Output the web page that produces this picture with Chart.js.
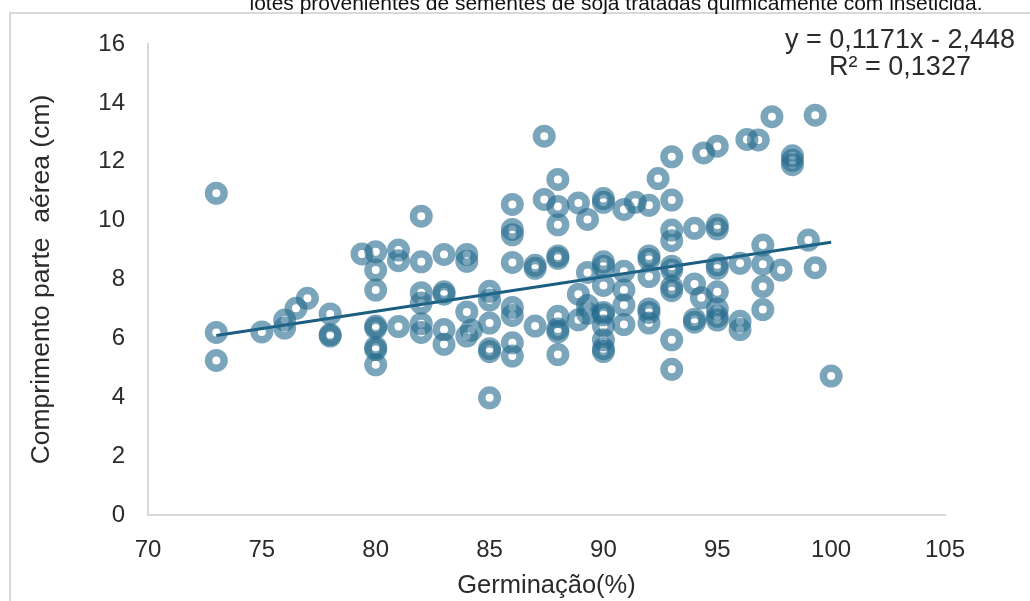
<!DOCTYPE html>
<html lang="pt">
<head>
  <meta charset="UTF-8">
  <title>Germinação x Comprimento parte aérea</title>
  <script src="https://cdn.jsdelivr.net/npm/chart.js"></script>
  <style>
    html, body { margin: 0; padding: 0; background: #fff; }
    #wrap { width: 1030px; height: 601px; }
  </style>
</head>
<body>
  <div id="wrap">
    <canvas id="chart" width="1030" height="601"></canvas>
  </div>
  <script>
    // germination (%) and shoot length (cm)
    const germination = [
      73, 73, 73, 75, 76, 76, 76.5, 77, 78, 78, 78,
      79.4, 80, 80, 80, 80, 80, 80, 80, 80,
      81, 81, 81,
      82, 82, 82, 82, 82, 82,
      83, 83, 83, 83, 83,
      84, 84, 84, 84, 84.2,
      85, 85, 85, 85, 85, 85,
      86, 86, 86, 86, 86, 86, 86, 86,
      87, 87, 87, 87.4, 87.4,
      88, 88, 88, 88, 88, 88, 88, 88, 88,
      88.9, 88.9, 88.9,
      89.3, 89.3, 89.3, 89.3,
      90, 90, 90, 90, 90, 90, 90, 90, 90, 90, 90,
      90.9, 90.9, 90.9, 90.9, 90.9,
      91.4,
      92, 92, 92, 92, 92, 92, 92,
      92.4,
      93, 93, 93, 93, 93, 93, 93, 93, 93, 93,
      94, 94, 94, 94, 94.3, 94.4,
      95, 95, 95, 95, 95, 95, 95, 95, 95,
      96, 96, 96, 96.3, 96.8,
      97, 97, 97, 97, 97.4, 97.8,
      98.3, 98.3, 98.3,
      99, 99.3, 99.3, 100
    ];
    const shootLength = [
      10.93, 6.2, 5.25, 6.22, 6.62, 6.35, 7.02, 7.36, 6.83, 6.13, 6.08,
      8.87, 8.94, 8.32, 7.64, 6.42, 6.35, 5.7, 5.62, 5.1,
      9.0, 8.64, 6.4,
      10.15, 8.6, 7.55, 7.2, 6.5, 6.2,
      8.85, 7.58, 7.5, 6.3, 5.8,
      8.85, 8.62, 6.9, 6.08, 6.28,
      7.6, 7.3, 6.52, 5.65, 5.55, 3.98,
      10.55, 9.7, 9.52, 8.58, 7.05, 6.78, 5.85, 5.4,
      8.48, 8.38, 6.42, 12.87, 10.72,
      11.4, 10.48, 9.86, 8.8, 8.72, 6.75, 6.32, 6.22, 5.45,
      10.6, 7.5, 6.63,
      10.04, 8.24, 7.12, 6.85,
      10.75, 10.62, 8.6, 8.45, 7.8, 6.88, 6.8, 6.42, 5.95, 5.65, 5.55,
      10.38, 8.28, 7.64, 7.13, 6.47,
      10.62,
      10.52, 8.8, 8.68, 8.1, 7.0, 6.88, 6.52,
      11.43,
      12.17, 10.7, 9.68, 9.32, 8.45, 8.32, 7.75, 7.62, 5.95, 4.95,
      9.74, 7.85, 6.65, 6.55, 7.38, 12.3,
      12.53, 9.85, 9.72, 8.5, 8.38, 7.58, 7.0, 6.75, 6.62,
      8.55, 6.58, 6.3, 12.76, 12.74,
      9.17, 8.52, 7.76, 6.98, 13.53, 8.32,
      12.2, 12.05, 11.9,
      9.34, 13.58, 8.4, 4.72
    ];

    // linear trend shown on the chart
    const slope = 0.1171;
    const intercept = -2.448;
    const trendX = [73, 100];
    const equationLines = ['y = 0,1171x - 2,448', 'R² = 0,1327'];
    const captionText = 'lotes provenientes de sementes de soja tratadas quimicamente com inseticida.';

    const points = germination.map((g, i) => ({ x: g, y: shootLength[i] }));
    const trend = trendX.map(x => ({ x: x, y: slope * x + intercept }));

    const font = '"Liberation Sans", Arial, sans-serif';
    const textColor = '#2b2b2b';

    // frame, caption and equation drawn on the canvas
    const extras = {
      id: 'extras',
      beforeDraw(chart) {
        const ctx = chart.ctx;
        ctx.save();
        ctx.strokeStyle = '#d9d9d9';
        ctx.lineWidth = 2;
        ctx.strokeRect(10, 13, 1200, 800);
        ctx.restore();
      },
      afterDraw(chart) {
        const ctx = chart.ctx;
        ctx.save();
        ctx.fillStyle = '#111';
        ctx.font = '21px ' + font;
        ctx.textAlign = 'center';
        ctx.textBaseline = 'alphabetic';
        ctx.fillText(captionText, 616, 10);
        ctx.fillStyle = textColor;
        ctx.font = '27px ' + font;
        ctx.fillText(equationLines[0], 900, 48);
        ctx.fillText(equationLines[1], 900, 75);
        ctx.restore();
      }
    };

    new Chart(document.getElementById('chart'), {
      type: 'scatter',
      data: {
        datasets: [
          {
            label: 'Comprimento parte aérea',
            data: points,
            pointRadius: 7.75,
            pointHoverRadius: 7.75,
            pointBorderWidth: 7.5,
            borderColor: 'rgba(35, 105, 140, 0.6)',
            backgroundColor: 'rgba(0, 0, 0, 0)'
          },
          {
            type: 'line',
            label: 'Linear',
            data: trend,
            borderColor: '#1b5e7f',
            borderWidth: 3,
            pointRadius: 0,
            fill: false
          }
        ]
      },
      options: {
        responsive: false,
        animation: false,
        devicePixelRatio: 1,
        layout: { padding: { left: 0, top: 44, right: 85, bottom: 0 } },
        plugins: {
          legend: { display: false },
          tooltip: { enabled: false }
        },
        scales: {
          x: {
            type: 'linear',
            min: 70,
            max: 105,
            afterFit: s => { s.height = 86; },
            grid: { display: false, drawTicks: false },
            border: { display: true, color: '#d9d9d9', width: 2 },
            ticks: { stepSize: 5, padding: 21, color: textColor, font: { family: font, size: 24 } },
            title: {
              display: true,
              text: 'Germinação(%)',
              color: textColor,
              font: { family: font, size: 25.5 },
              padding: { top: 0, bottom: 0 }
            }
          },
          y: {
            min: 0,
            max: 16,
            afterFit: s => { s.width = 148; },
            grid: { display: false, drawTicks: false },
            border: { display: true, color: '#d9d9d9', width: 2 },
            ticks: { stepSize: 2, padding: 23, color: textColor, font: { family: font, size: 24 } },
            title: {
              display: true,
              text: 'Comprimento parte  aérea (cm)',
              color: textColor,
              font: { family: font, size: 26.5 },
              padding: { top: 26, bottom: 0 }
            }
          }
        }
      },
      plugins: [extras]
    });
  </script>
</body>
</html>
